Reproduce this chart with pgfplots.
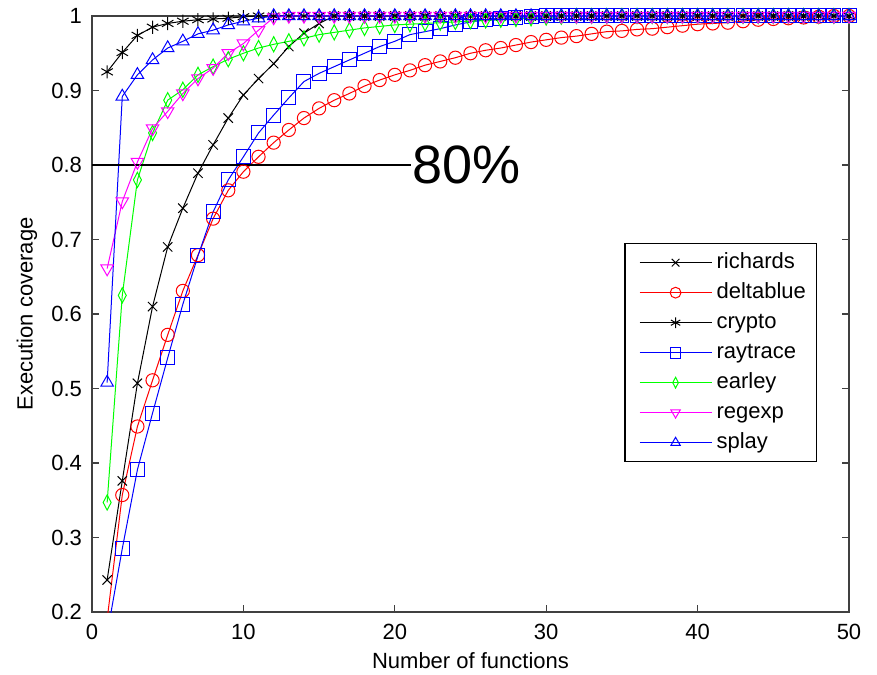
\documentclass[border=0pt]{standalone}
\usepackage{fontspec}
\setmainfont{Liberation Sans}
\usepackage{pgfplots}
\usepackage{pgfplotstable}
\pgfplotsset{compat=1.18}
\usetikzlibrary{plotmarks}

\pgfplotstableread{
x richards deltablue crypto raytrace earley regexp splay
1 0.243 0.190 0.925 0.170 0.347 0.661 0.508
2 0.376 0.357 0.951 0.285 0.625 0.751 0.892
3 0.507 0.449 0.974 0.391 0.780 0.804 0.921
4 0.610 0.511 0.985 0.467 0.843 0.849 0.941
5 0.690 0.572 0.990 0.541 0.887 0.872 0.957
6 0.742 0.631 0.993 0.613 0.901 0.896 0.966
7 0.789 0.679 0.995 0.678 0.921 0.916 0.976
8 0.827 0.728 0.996 0.737 0.932 0.930 0.981
9 0.863 0.766 0.997 0.780 0.942 0.950 0.988
10 0.894 0.791 0.999 0.811 0.950 0.963 0.993
11 0.916 0.811 1.000 0.843 0.957 0.981 0.997
12 0.936 0.830 1.000 0.867 0.962 0.998 1.000
13 0.959 0.847 1.000 0.890 0.966 1.000 1.000
14 0.977 0.863 1.000 0.912 0.970 1.000 1.000
15 0.990 0.876 1.000 0.923 0.975 1.000 1.000
16 1.000 0.887 1.000 0.932 0.978 1.000 1.000
17 1.000 0.896 1.000 0.941 0.981 1.000 1.000
18 1.000 0.906 1.000 0.950 0.984 1.000 1.000
19 1.000 0.914 1.000 0.959 0.986 1.000 1.000
20 1.000 0.921 1.000 0.966 0.988 1.000 1.000
21 1.000 0.927 1.000 0.975 0.989 1.000 1.000
22 1.000 0.934 1.000 0.979 0.990 1.000 1.000
23 1.000 0.939 1.000 0.983 0.991 1.000 1.000
24 1.000 0.944 1.000 0.988 0.992 1.000 1.000
25 1.000 0.950 1.000 0.992 0.993 1.000 1.000
26 1.000 0.954 1.000 0.995 0.994 1.000 1.000
27 1.000 0.957 1.000 0.997 0.995 1.000 1.000
28 1.000 0.961 1.000 0.998 0.996 1.000 1.000
29 1.000 0.965 1.000 0.999 0.997 1.000 1.000
30 1.000 0.968 1.000 1.000 0.998 1.000 1.000
31 1.000 0.971 1.000 1.000 0.999 1.000 1.000
32 1.000 0.973 1.000 1.000 1.000 1.000 1.000
33 1.000 0.976 1.000 1.000 1.000 1.000 1.000
34 1.000 0.979 1.000 1.000 1.000 1.000 1.000
35 1.000 0.980 1.000 1.000 1.000 1.000 1.000
36 1.000 0.982 1.000 1.000 1.000 1.000 1.000
37 1.000 0.983 1.000 1.000 1.000 1.000 1.000
38 1.000 0.985 1.000 1.000 1.000 1.000 1.000
39 1.000 0.987 1.000 1.000 1.000 1.000 1.000
40 1.000 0.989 1.000 1.000 1.000 1.000 1.000
41 1.000 0.990 1.000 1.000 1.000 1.000 1.000
42 1.000 0.991 1.000 1.000 1.000 1.000 1.000
43 1.000 0.993 1.000 1.000 1.000 1.000 1.000
44 1.000 0.995 1.000 1.000 1.000 1.000 1.000
45 1.000 0.996 1.000 1.000 1.000 1.000 1.000
46 1.000 0.997 1.000 1.000 1.000 1.000 1.000
47 1.000 0.998 1.000 1.000 1.000 1.000 1.000
48 1.000 0.999 1.000 1.000 1.000 1.000 1.000
49 1.000 1.000 1.000 1.000 1.000 1.000 1.000
50 1.000 1.000 1.000 1.000 1.000 1.000 1.000
}\datatable

\definecolor{mgreen}{RGB}{0,255,0}
\definecolor{mmag}{RGB}{255,0,255}
\definecolor{axgray}{RGB}{64,64,64}

\begin{document}
\begin{tikzpicture}
\path[use as bounding box] (-46pt,-31pt) rectangle (392.5pt,306pt);
\begin{axis}[
  scale only axis,
  width=378.5pt, height=298pt,
  xmin=0, xmax=50, ymin=0.2, ymax=1,
  xtick={0,10,...,50},
  ytick={0.2,0.3,...,1.0},
  yticklabels={0.2,0.3,0.4,0.5,0.6,0.7,0.8,0.9,1},
  tick align=inside,
  major tick length=3.5pt,
  axis line style={axgray, line width=0.6pt},
  every tick/.style={axgray, line width=0.6pt},
  /pgf/number format/assume math mode=true,
  tick label style={font=\fontsize{11}{13}\selectfont},
  xticklabel style={yshift=-2.5pt},
  yticklabel style={xshift=-1.5pt},
  xlabel={Number of functions},
  ylabel={Execution coverage},
  label style={font=\fontsize{11}{13}\selectfont},
  xlabel style={at={(axis description cs:0.5,-0.0822)}, anchor=center},
  ylabel style={at={(axis description cs:-0.0859,0.5)}, anchor=center},
  every axis plot/.append style={line width=0.5pt, mark size=3.3pt, mark options={solid, line width=0.5pt}},
  legend style={at={(0.9577,0.619)}, anchor=north east, draw=black, line width=0.6pt,
     font=\fontsize{11}{13}\selectfont,
     nodes={text height=8pt, text depth=2.5pt, inner sep=2.25pt},
     inner xsep=3pt, inner ysep=2pt},
  legend cell align=left,
  legend image code/.code={\path (-4pt,0pt); \draw[mark repeat=2, mark phase=2, mark size=2.7pt] plot coordinates {(0pt,0pt)(18pt,0pt)(36pt,0pt)};},
]
\addplot[black, mark=x] table[x=x, y=richards] {\datatable};
\addlegendentry{richards}
\addplot[red, mark=o] table[x=x, y=deltablue] {\datatable};
\addlegendentry{deltablue}
\addplot[black, mark=asterisk] table[x=x, y=crypto] {\datatable};
\addlegendentry{crypto}
\addplot[blue, mark=square, mark size=3.5pt] table[x=x, y=raytrace] {\datatable};
\addlegendentry{raytrace}
\addplot[mgreen, mark=diamond, mark size=3.8pt, mark options={xscale=0.7}] table[x=x, y=earley] {\datatable};
\addlegendentry{earley}
\addplot[mmag, mark=triangle, mark size=3.6pt, mark options={rotate=180}] table[x=x, y=regexp] {\datatable};
\addlegendentry{regexp}
\addplot[blue, mark=triangle, mark size=3.6pt] table[x=x, y=splay] {\datatable};
\addlegendentry{splay}
\addplot[black, line width=0.6pt, mark=none, forget plot] coordinates {(0,0.8) (21.1,0.8)};
\node[anchor=west, inner sep=0.5pt, font=\fontsize{27}{30}\selectfont] at (axis cs:21.1,0.8) {80\%};
\end{axis}
\end{tikzpicture}
\end{document}
